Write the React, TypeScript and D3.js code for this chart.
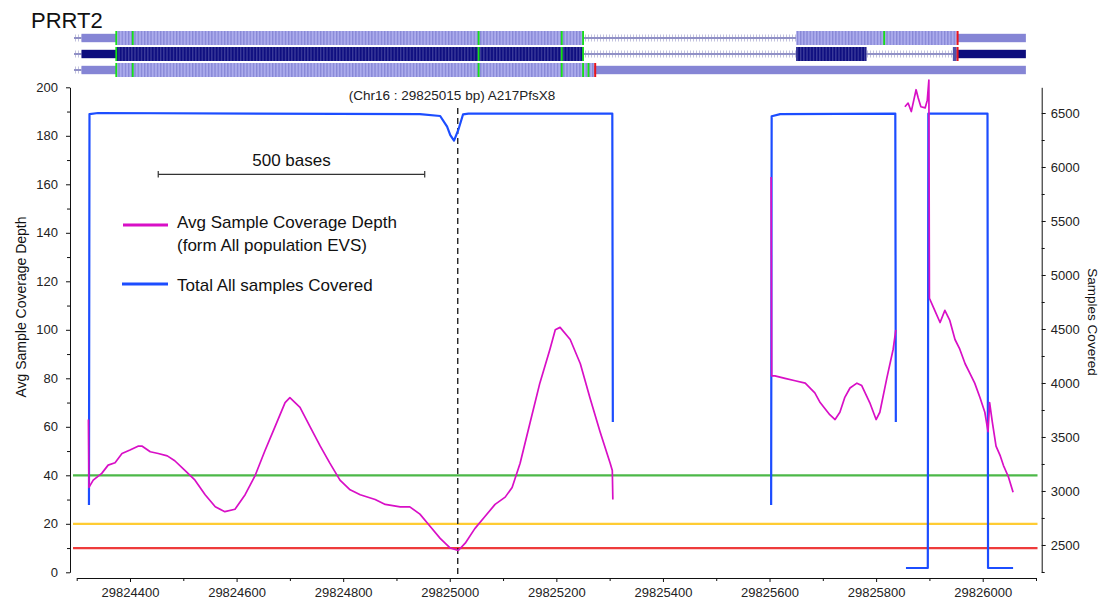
import * as d3 from "d3";
import React, { useEffect, useRef } from "react";

const WIDTH = 1103;
const HEIGHT = 603;

// genomic window (bp) and axis ticks
const xDomain: [number, number] = [29824300, 29826100];
const xTicks = [29824400, 29824600, 29824800, 29825000, 29825200, 29825400, 29825600, 29825800, 29826000];
const xMinorTicks = [29824300, 29824500, 29824700, 29824900, 29825100, 29825300, 29825500, 29825700, 29825900, 29826100];

const depthDomain: [number, number] = [0, 200];
const depthTicks = [0, 20, 40, 60, 80, 100, 120, 140, 160, 180, 200];
const depthMinorTicks = [10, 30, 50, 70, 90, 110, 130, 150, 170, 190];

const samplesDomain: [number, number] = [2247, 6738];
const samplesTicks = [2500, 3000, 3500, 4000, 4500, 5000, 5500, 6000, 6500];
const samplesMinorTicks = [2250, 2750, 3250, 3750, 4250, 4750, 5250, 5750, 6250];

// coverage thresholds (left axis)
const thresholdValues = [40, 20, 10];
const thresholdColors = ["#4cb848", "#ffcc33", "#ee3b3b"];

const variantPos = 29825015;
const variantLabel = "(Chr16 : 29825015 bp) A217PfsX8";
const scaleBarRange: [number, number] = [29824453, 29824953];

// Avg sample coverage depth, [bp, depth]
const depthSeg1: [number, number][] = [
  [29824322, 63], [29824323, 35], [29824331, 38], [29824347, 40.8], [29824359, 44.2], [29824372, 45.2],
  [29824385, 49], [29824400, 50.4], [29824415, 52], [29824423, 52], [29824438, 49.7], [29824453, 49],
  [29824470, 48], [29824484, 46], [29824503, 42], [29824522, 38], [29824541, 32], [29824560, 27],
  [29824578, 25], [29824597, 26], [29824616, 32], [29824635, 40], [29824653, 50], [29824672, 60],
  [29824691, 70], [29824700, 72], [29824719, 68], [29824738, 60], [29824757, 52], [29824775, 45],
  [29824794, 38], [29824813, 34], [29824832, 32], [29824860, 30], [29824879, 28], [29824907, 27],
  [29824925, 27], [29824944, 24], [29824963, 19], [29824982, 14], [29825001, 10], [29825016, 9],
  [29825029, 12], [29825047, 18], [29825066, 23], [29825085, 28], [29825104, 31], [29825117, 35],
  [29825132, 45], [29825151, 62], [29825169, 78], [29825188, 92], [29825198, 100], [29825207, 101],
  [29825226, 96], [29825245, 86], [29825263, 72], [29825282, 58], [29825301, 45], [29825305, 42],
  [29825306, 30],
];
const depthSeg2: [number, number][] = [
  [29825603, 163], [29825604, 81], [29825610, 81], [29825629, 80], [29825648, 79], [29825667, 78],
  [29825685, 74], [29825695, 70], [29825713, 65], [29825723, 63], [29825732, 66], [29825741, 72],
  [29825751, 76], [29825764, 78], [29825773, 77], [29825788, 70], [29825800, 63], [29825807, 66],
  [29825820, 80], [29825832, 92], [29825837, 100],
];
const depthSeg3: [number, number][] = [
  [29825854, 192], [29825860, 193.5], [29825866, 190], [29825871, 195], [29825875, 199], [29825879, 195.6],
  [29825884, 192], [29825892, 191.5], [29825896, 194.7], [29825899, 203], [29825900, 113], [29825910, 108],
  [29825920, 103], [29825929, 108], [29825938, 104], [29825948, 96], [29825957, 92], [29825967, 86],
  [29825976, 82], [29825985, 78], [29825995, 72], [29826004, 66], [29826010, 58], [29826013, 70],
  [29826018, 62], [29826025, 52], [29826033, 48], [29826039, 44], [29826048, 39.5], [29826057, 33],
];

// Total samples covered, [bp, samples]
const samplesSeg1: [number, number][] = [
  [29824323, 2870], [29824324, 6490], [29824340, 6500], [29824944, 6490], [29824982, 6472],
  [29824995, 6373], [29825001, 6296], [29825008, 6244], [29825016, 6343], [29825025, 6488],
  [29825035, 6495], [29825305, 6495], [29825306, 3639],
];
const samplesSeg2: [number, number][] = [
  [29825603, 2870], [29825604, 6470], [29825620, 6490], [29825836, 6495], [29825837, 3639],
];
const samplesSeg3: [number, number][] = [
  [29825856, 2287], [29825897, 2287], [29825898, 6495], [29826009, 6495], [29826010, 2287], [29826057, 2287],
];

// transcripts (bp)
const txTail: [number, number] = [29824295, 29824309];
const txExons: [number, number][][] = [
  [[29824309, 29825251], [29825650, 29826081]],
  [[29824309, 29825251], [29825650, 29825782], [29825944, 29826081]],
  [[29824309, 29826081]],
];
const txCds: [number, number][] = [
  [29824374, 29825951],
  [29824374, 29825951],
  [29824374, 29825271],
];
const txGreen: number[][] = [
  [29824374, 29824405, 29825054, 29825210, 29825250, 29825815],
  [29824374, 29825054, 29825210, 29825250],
  [29824374, 29824405, 29825054, 29825210, 29825250, 29825260],
];
const txRed = [29825951, 29825951, 29825271];

export default function App() {
  const svgRef = useRef<SVGSVGElement | null>(null);

  useEffect(() => {
    if (!svgRef.current) return;
    const svg = d3.select(svgRef.current);
    svg.selectAll("*").remove();

    const font = "'Liberation Sans', Arial, Helvetica, sans-serif";

    const x = d3.scaleLinear().domain(xDomain).range([76.7, 1036]);
    const yDepth = d3.scaleLinear().domain(depthDomain).range([572.3, 87.3]);
    const ySamples = d3.scaleLinear().domain(samplesDomain).range([572.3, 87.3]);

    const defs = svg.append("defs");
    const stripe = (id: string, bg: string, fg: string) => {
      const p = defs
        .append("pattern")
        .attr("id", id)
        .attr("patternUnits", "userSpaceOnUse")
        .attr("width", 3.2)
        .attr("height", 20);
      p.append("rect").attr("width", 3.2).attr("height", 20).attr("fill", bg);
      p.append("rect").attr("width", 1.3).attr("height", 20).attr("fill", fg);
    };
    stripe("stripeLight", "#acacec", "#8686d6");
    stripe("stripeDark", "#0e0e80", "#3c3c9a");
    const ip = defs
      .append("pattern")
      .attr("id", "intronHatch")
      .attr("patternUnits", "userSpaceOnUse")
      .attr("width", 3)
      .attr("height", 20);
    ip.append("rect").attr("width", 1).attr("height", 20).attr("fill", "#c2c2de");

    // ---- gene track ----
    const rowTop = [31, 47, 63];
    const rowH = 14;
    const gene = svg.append("g");
    txExons.forEach((exons, i) => {
      const top = rowTop[i];
      const mid = top + rowH / 2;
      const dark = i === 1;
      const g = gene.append("g");

      // intron backbone + leading tail
      const gaps: [number, number][] = [txTail];
      for (let k = 0; k < exons.length - 1; k++) gaps.push([exons[k][1], exons[k + 1][0]]);
      gaps.forEach(([a, b]) => {
        g.append("rect")
          .attr("x", x(a))
          .attr("y", mid - 3.5)
          .attr("width", x(b) - x(a))
          .attr("height", 7)
          .attr("fill", "url(#intronHatch)");
        g.append("rect")
          .attr("x", x(a))
          .attr("y", mid - 1)
          .attr("width", x(b) - x(a))
          .attr("height", 2)
          .attr("fill", "#9090c6");
      });

      const [cs, ce] = txCds[i];
      exons.forEach(([a, b]) => {
        // UTR parts
        const utr: [number, number][] = [];
        if (a < cs) utr.push([a, Math.min(b, cs)]);
        if (b > ce) utr.push([Math.max(a, ce), b]);
        utr.forEach(([u0, u1]) => {
          g.append("rect")
            .attr("x", x(u0))
            .attr("y", top + rowH * 0.2)
            .attr("width", x(u1) - x(u0))
            .attr("height", rowH * 0.6)
            .attr("fill", dark ? "#0d0d7d" : "#8585d5");
        });
        const c0 = Math.max(a, cs);
        const c1 = Math.min(b, ce);
        if (c1 > c0) {
          const small = dark && c1 - c0 < 20;
          g.append("rect")
            .attr("x", x(c0))
            .attr("y", top)
            .attr("width", x(c1) - x(c0))
            .attr("height", rowH)
            .attr("fill", small ? "#5252a8" : dark ? "url(#stripeDark)" : "url(#stripeLight)");
        }
      });

      txGreen[i].forEach((p) => {
        g.append("rect")
          .attr("x", x(p) - 0.8)
          .attr("y", top)
          .attr("width", 1.8)
          .attr("height", rowH)
          .attr("fill", "#16e016");
      });
      g.append("rect")
        .attr("x", x(txRed[i]))
        .attr("y", top)
        .attr("width", 2)
        .attr("height", rowH)
        .attr("fill", "#e8131b");
    });

    svg
      .append("text")
      .attr("x", 31)
      .attr("y", 28)
      .attr("font-family", font)
      .attr("font-size", 22)
      .attr("fill", "#111")
      .text("PRRT2");

    // ---- threshold lines ----
    svg
      .append("g")
      .selectAll("line")
      .data(thresholdValues)
      .join("line")
      .attr("x1", 73)
      .attr("x2", 1037.5)
      .attr("y1", (d) => yDepth(d))
      .attr("y2", (d) => yDepth(d))
      .attr("stroke", (_, i) => thresholdColors[i])
      .attr("stroke-width", 2.2);

    // ---- variant marker ----
    svg
      .append("line")
      .attr("x1", x(variantPos))
      .attr("x2", x(variantPos))
      .attr("y1", 108)
      .attr("y2", 578)
      .attr("stroke", "#111")
      .attr("stroke-width", 1.3)
      .attr("stroke-dasharray", "6,4");
    svg
      .append("text")
      .attr("x", 452)
      .attr("y", 100)
      .attr("text-anchor", "middle")
      .attr("font-family", font)
      .attr("font-size", 13.5)
      .attr("fill", "#222")
      .text(variantLabel);

    // ---- series ----
    const samplesLine = d3
      .line<[number, number]>()
      .x((d) => x(d[0]))
      .y((d) => ySamples(d[1]));
    svg
      .append("g")
      .selectAll("path")
      .data([samplesSeg1, samplesSeg2, samplesSeg3])
      .join("path")
      .attr("d", (d) => samplesLine(d))
      .attr("fill", "none")
      .attr("stroke", "#1c4dff")
      .attr("stroke-width", 2.2)
      .attr("stroke-linejoin", "round");

    const depthLine = d3
      .line<[number, number]>()
      .x((d) => x(d[0]))
      .y((d) => yDepth(d[1]));
    svg
      .append("g")
      .selectAll("path")
      .data([depthSeg1, depthSeg2, depthSeg3])
      .join("path")
      .attr("d", (d) => depthLine(d))
      .attr("fill", "none")
      .attr("stroke", "#d80fc6")
      .attr("stroke-width", 1.7)
      .attr("stroke-linejoin", "round");

    // ---- axes ----
    const styleAxis = (g: d3.Selection<SVGGElement, unknown, null, undefined>) => {
      g.selectAll("text").attr("font-family", font).attr("font-size", 13).attr("fill", "#222");
      g.selectAll("line,path").attr("stroke", "#111");
    };

    svg
      .append("g")
      .attr("transform", "translate(70,0)")
      .call(d3.axisLeft(yDepth).tickValues(depthTicks).tickSize(4).tickSizeOuter(0).tickPadding(8))
      .call(styleAxis);
    svg
      .append("g")
      .attr("transform", "translate(70,0)")
      .call(d3.axisLeft(yDepth).tickValues(depthMinorTicks).tickSize(3).tickFormat(() => ""))
      .call((g) => g.select(".domain").remove())
      .call(styleAxis);

    svg
      .append("g")
      .attr("transform", "translate(1041.7,0)")
      .call(
        d3
          .axisRight(ySamples)
          .tickValues(samplesTicks)
          .tickSize(4)
          .tickSizeOuter(0)
          .tickPadding(5)
          .tickFormat(d3.format("d")),
      )
      .call(styleAxis);
    svg
      .append("g")
      .attr("transform", "translate(1041.7,0)")
      .call(d3.axisRight(ySamples).tickValues(samplesMinorTicks).tickSize(3).tickFormat(() => ""))
      .call((g) => g.select(".domain").remove())
      .call(styleAxis);

    svg
      .append("g")
      .attr("transform", "translate(0,578)")
      .call(
        d3
          .axisBottom(x)
          .tickValues(xTicks)
          .tickSize(4)
          .tickSizeOuter(0)
          .tickPadding(6)
          .tickFormat(d3.format("d")),
      )
      .call(styleAxis);
    svg
      .append("g")
      .attr("transform", "translate(0,578)")
      .call(d3.axisBottom(x).tickValues(xMinorTicks).tickSize(3).tickFormat(() => ""))
      .call((g) => g.select(".domain").remove())
      .call(styleAxis);

    svg
      .append("text")
      .attr("transform", "translate(26,307) rotate(-90)")
      .attr("text-anchor", "middle")
      .attr("font-family", font)
      .attr("font-size", 14)
      .attr("fill", "#111")
      .text("Avg Sample Coverage Depth");
    svg
      .append("text")
      .attr("transform", "translate(1088,322) rotate(90)")
      .attr("text-anchor", "middle")
      .attr("font-family", font)
      .attr("font-size", 13.5)
      .attr("fill", "#111")
      .text("Samples Covered");

    // ---- scale bar ----
    const sb = svg.append("g").attr("stroke", "#333").attr("stroke-width", 1.2);
    sb.append("line").attr("x1", x(scaleBarRange[0])).attr("x2", x(scaleBarRange[1])).attr("y1", 174.3).attr("y2", 174.3);
    scaleBarRange.forEach((p) =>
      sb.append("line").attr("x1", x(p)).attr("x2", x(p)).attr("y1", 171).attr("y2", 177.5),
    );
    svg
      .append("text")
      .attr("x", (x(scaleBarRange[0]) + x(scaleBarRange[1])) / 2)
      .attr("y", 166)
      .attr("text-anchor", "middle")
      .attr("font-family", font)
      .attr("font-size", 17)
      .attr("fill", "#111")
      .text("500 bases");

    // ---- legend ----
    const legend = svg.append("g").attr("font-family", font).attr("font-size", 17).attr("fill", "#111");
    legend.append("line").attr("x1", 123).attr("x2", 168).attr("y1", 225).attr("y2", 225).attr("stroke", "#d80fc6").attr("stroke-width", 3);
    legend.append("text").attr("x", 177).attr("y", 228).text("Avg Sample Coverage Depth");
    legend.append("text").attr("x", 177).attr("y", 250.5).text("(form All population EVS)");
    legend.append("line").attr("x1", 122).attr("x2", 168).attr("y1", 284).attr("y2", 284).attr("stroke", "#1c4dff").attr("stroke-width", 3);
    legend.append("text").attr("x", 177).attr("y", 291).text("Total All samples Covered");
  }, []);

  return (
    <svg
      ref={svgRef}
      width={WIDTH}
      height={HEIGHT}
      style={{ position: "absolute", left: 0, top: 0, background: "#fff" }}
    />
  );
}
